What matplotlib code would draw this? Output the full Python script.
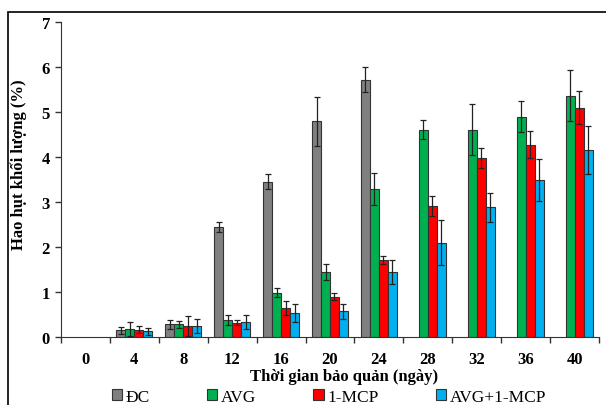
import numpy as np
import matplotlib
matplotlib.use("Agg")
import matplotlib.pyplot as plt
from matplotlib.patches import Rectangle

## Datos
days = ["0", "4", "8", "12", "16", "20", "24", "28", "32", "36", "40"]
series = ["ĐC", "AVG", "1-MCP", "AVG+1-MCP"]

dc      = [0, 0.15, 0.28, 2.45, 3.45, 4.79, 5.72, np.nan, np.nan, np.nan, np.nan]
dc_err  = [0, 0.08, 0.10, 0.11, 0.17, 0.54, 0.27, np.nan, np.nan, np.nan, np.nan]
avg     = [0, 0.18, 0.28, 0.38, 0.98, 1.44, 3.29, 4.61, 4.61, 4.90, 5.36]
avg_err = [0, 0.16, 0.08, 0.12, 0.10, 0.18, 0.36, 0.21, 0.57, 0.34, 0.57]
mcp     = [0, 0.16, 0.25, 0.32, 0.64, 0.90, 1.71, 2.91, 3.98, 4.27, 5.10]
mcp_err = [0, 0.08, 0.22, 0.06, 0.15, 0.08, 0.08, 0.22, 0.23, 0.30, 0.36]
mix     = [0, 0.13, 0.24, 0.34, 0.53, 0.57, 1.44, 2.10, 2.88, 3.49, 4.16]
mix_err = [0, 0.08, 0.15, 0.16, 0.20, 0.16, 0.27, 0.51, 0.33, 0.46, 0.53]

values = [dc, avg, mcp, mix]
errors = [dc_err, avg_err, mcp_err, mix_err]
colors = ["#808080", "#00b050", "#ff0000", "#00b0f0"]

plt.rcParams['font.family'] = ['Liberation Serif', 'DejaVu Serif']

fig = plt.figure(figsize=(6.06, 4.06), dpi=100)
ax = fig.add_axes([61/606, 1-338/406, 538/606, 315/406])

x = np.arange(len(days))
w = 0.184
for k in range(4):
    v = np.array(values[k], dtype=float)
    e = np.array(errors[k], dtype=float)
    pos = x + (k - 1.5) * w
    ok = ~np.isnan(v) & (v > 0)
    ax.bar(pos[ok], v[ok], width=w, color=colors[k], edgecolor="#333333",
           linewidth=0.8, label=series[k], zorder=2)
    ax.errorbar(pos[ok], v[ok], yerr=e[ok], fmt="none", ecolor="#222222",
                elinewidth=0.9, capsize=2.2, capthick=0.9, zorder=3)

ax.set_xlim(-0.5, len(days) - 0.5)
ax.set_ylim(0, 7)
ax.set_yticks(range(8))
ax.set_xticks(x)
ax.set_xticklabels(days)
ax.set_xticks(np.arange(-0.5, len(days), 1.0), minor=True)
ax.tick_params(axis="x", which="major", length=0, pad=10, labelsize=12)
ax.tick_params(axis="x", which="minor", length=4, width=1, color="#333333", direction="out")
ax.tick_params(axis="y", length=4, width=1, color="#333333", labelsize=12, pad=4)
for lab in ax.get_xticklabels() + ax.get_yticklabels():
    lab.set_fontweight("bold")

ax.spines["top"].set_visible(False)
ax.spines["right"].set_visible(False)
ax.spines["left"].set_color("#333333")
ax.spines["bottom"].set_color("#333333")

ax.set_ylabel("Hao hụt khối lượng (%)", fontsize=12, fontweight="bold")
ax.set_xlabel("Thời gian bảo quản (ngày)", fontsize=12, fontweight="bold")
ax.yaxis.set_label_coords(-0.063, 0.549)
ax.xaxis.set_label_coords(0.526, -0.098)

fig.legend(loc="center", bbox_to_anchor=(329/606, 1-398/406), ncol=4, frameon=False,
           fontsize=12.5, handlelength=0.6, handleheight=0.6, handletextpad=0.2,
           columnspacing=3.3, borderaxespad=0)

## marco
fig.patches.append(Rectangle((8/606, -0.1), 1.1, 1-13/406+0.1, transform=fig.transFigure,
                             fill=False, edgecolor="black", linewidth=1.2))

fig.savefig("out.png", dpi=100)
